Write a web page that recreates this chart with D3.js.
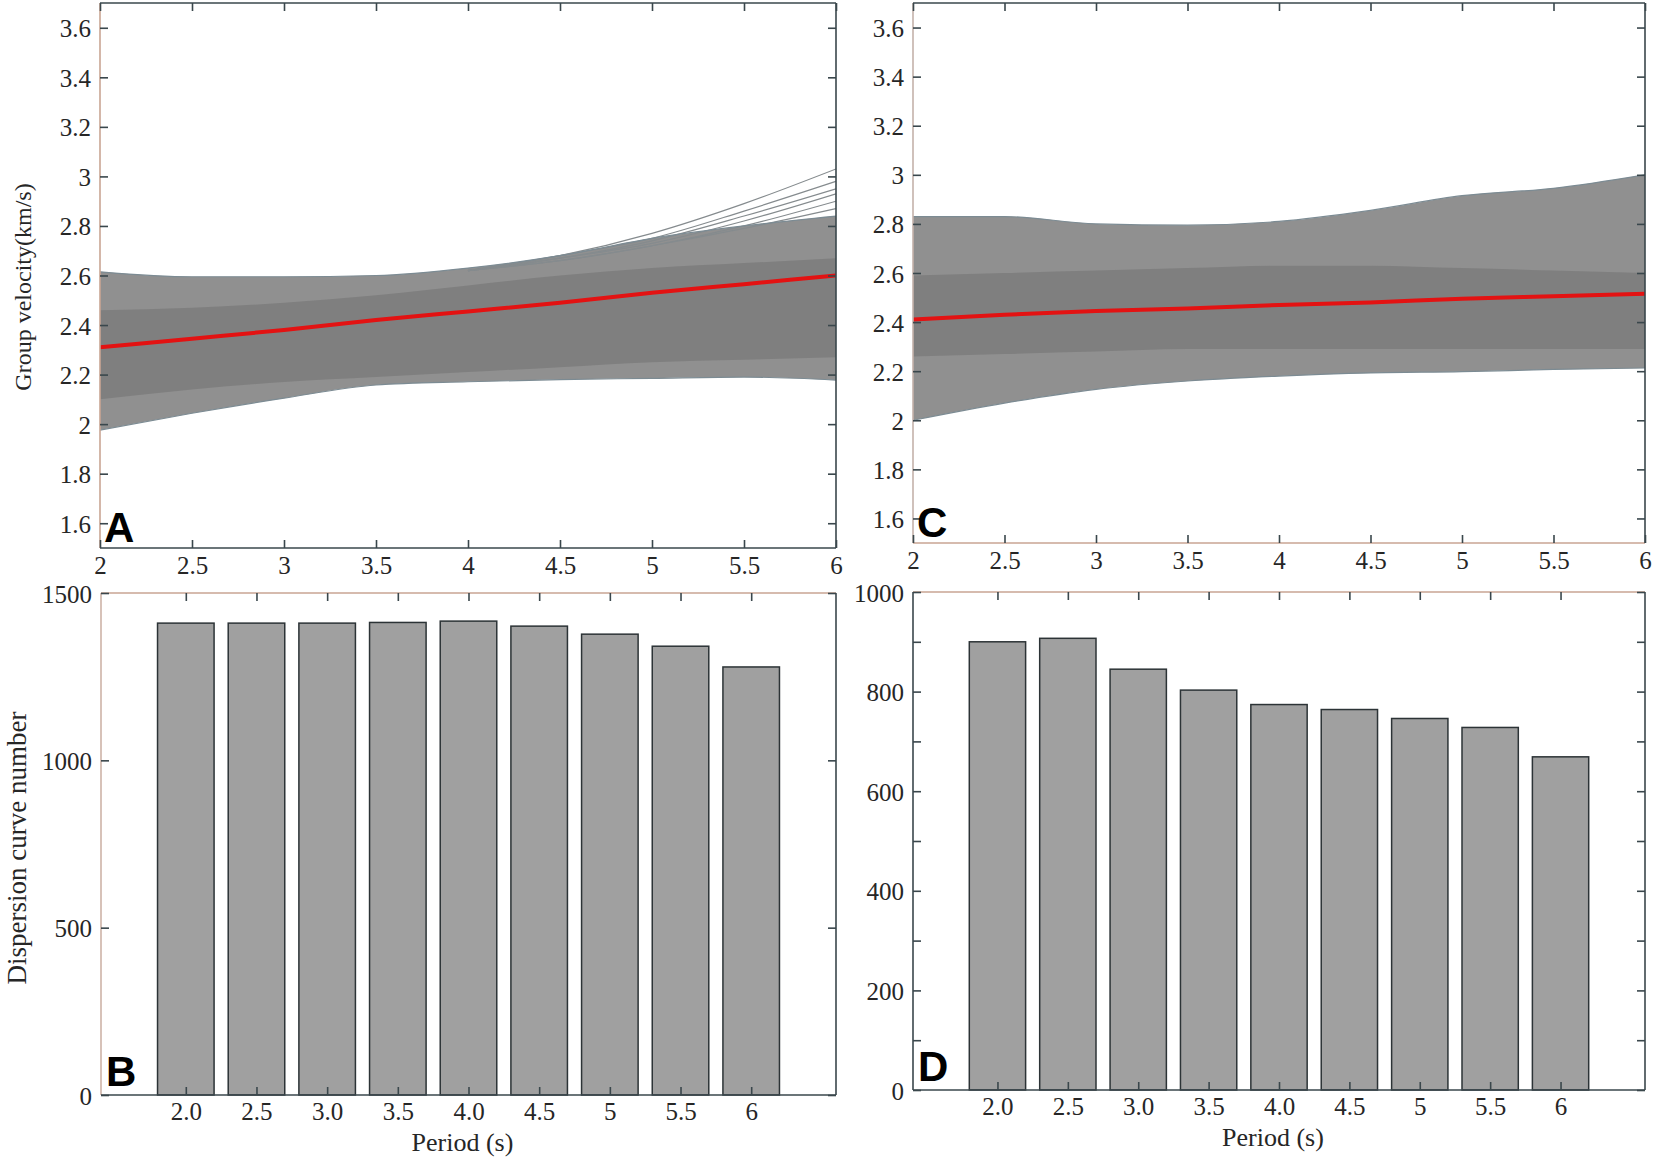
<!DOCTYPE html>
<html>
<head>
<meta charset="utf-8">
<script src="https://cdn.jsdelivr.net/npm/d3@7/dist/d3.min.js"></script>
<style>
  body { margin: 0; background: #fff; }
  svg text { font-family: 'Liberation Serif', 'Times New Roman', serif; fill: #262626; }
  .letter { font-family: 'Liberation Sans', Arial, sans-serif; font-weight: bold; fill: #000; }
</style>
</head>
<body>
<svg id="chart" width="1655" height="1160"></svg>
<script>
// data: periods (s) and group velocity envelopes
const periods = [2, 2.5, 3, 3.5, 4, 4.5, 5, 5.5, 6];

const meanA      = [2.31, 2.345, 2.38, 2.42, 2.455, 2.49, 2.53, 2.565, 2.60];
const upperA     = [2.615, 2.595, 2.595, 2.60, 2.63, 2.68, 2.75, 2.80, 2.84];
const lowerA     = [1.976, 2.044, 2.105, 2.158, 2.171, 2.18, 2.185, 2.19, 2.178];
const coreUpperA = [2.46, 2.47, 2.49, 2.52, 2.56, 2.60, 2.63, 2.65, 2.67];
const coreLowerA = [2.10, 2.14, 2.17, 2.19, 2.21, 2.23, 2.25, 2.26, 2.27];

// the few curves that fan out above the band in A
const fanPeriods = [4, 4.5, 5, 5.5, 6];
const fanA = [
  [2.62, 2.68, 2.77, 2.89, 3.03],
  [2.62, 2.68, 2.75, 2.86, 2.98],
  [2.62, 2.67, 2.74, 2.84, 2.95],
  [2.62, 2.67, 2.73, 2.82, 2.93],
  [2.62, 2.66, 2.72, 2.80, 2.90],
  [2.62, 2.66, 2.72, 2.79, 2.87],
];

const meanC      = [2.41, 2.43, 2.445, 2.455, 2.47, 2.48, 2.495, 2.505, 2.515];
const upperC     = [2.83, 2.83, 2.80, 2.795, 2.81, 2.855, 2.915, 2.945, 3.0];
const lowerC     = [2.0, 2.07, 2.126, 2.16, 2.18, 2.193, 2.198, 2.207, 2.213];
const coreUpperC = [2.59, 2.60, 2.61, 2.62, 2.63, 2.63, 2.62, 2.61, 2.60];
const coreLowerC = [2.26, 2.27, 2.28, 2.29, 2.29, 2.29, 2.29, 2.29, 2.29];

// bar charts: dispersion curve number per period
const barLabels = ['2.0', '2.5', '3.0', '3.5', '4.0', '4.5', '5', '5.5', '6'];
const countsB = [1410, 1410, 1410, 1412, 1416, 1401, 1377, 1341, 1279];
const countsD = [900, 907, 845, 803, 774, 764, 746, 728, 669];

// tick labels
const velTicks = [1.6, 1.8, 2, 2.2, 2.4, 2.6, 2.8, 3, 3.2, 3.4, 3.6];
const periodTicks = [2, 2.5, 3, 3.5, 4, 4.5, 5, 5.5, 6];
const countTicksB = [0, 500, 1000, 1500];
const countTicksD = [0, 200, 400, 600, 800, 1000];
const countMinorD = [0, 100, 200, 300, 400, 500, 600, 700, 800, 900, 1000];

// layout
const config = {
  color: {
    band: '#848484',
    core: '#7f7f7f',
    edge: '#7c8b93',
    mean: '#e31212',
    bar: '#a0a0a0',
    barStroke: '#2c3336',
    dark: '#3a474c',
  },
  tick: 8,
  tickFont: 25,
  velDomain: [1.5, 3.7],
  barXDomain: [-0.2, 10.2],
  barWidth: 0.8,
  panels: {
    A: { l: 100, r: 836, t: 3, b: 548, spines: { left: '#c9a593', top: '#3a474c', right: '#3a474c', bottom: '#3a474c' } },
    C: { l: 913, r: 1645, t: 3, b: 543, spines: { left: '#c4b2aa', top: '#3a474c', right: '#3a474c', bottom: '#c9a593' } },
    B: { l: 101, r: 836, t: 593, b: 1095, spines: { left: '#cdb3a7', top: '#c9a593', right: '#3a474c', bottom: '#3a474c' } },
    D: { l: 913, r: 1645, t: 592, b: 1090, spines: { left: '#3a474c', top: '#c9a593', right: '#3a474c', bottom: '#3a474c' } },
  },
};

const svg = d3.select('#chart');

// function that draws the four spines of a panel
function drawFrame(g, p) {
  const s = p.spines;
  const seg = [
    [p.l, p.t, p.l, p.b, s.left],
    [p.l, p.b, p.r, p.b, s.bottom],
    [p.l, p.t, p.r, p.t, s.top],
    [p.r, p.t, p.r, p.b, s.right],
  ];
  g.selectAll('line.spine').data(seg).enter().append('line')
    .attr('class', 'spine')
    .attr('x1', d => d[0]).attr('y1', d => d[1])
    .attr('x2', d => d[2]).attr('y2', d => d[3])
    .attr('stroke', d => d[4])
    .attr('stroke-width', 1.6);
}

// inward ticks on all four sides, labels on left and bottom
function drawAxes(g, p, x, y, xTicks, yTicks, opt) {
  const yMinor = opt.yMinor || yTicks;

  const left = g.append('g').attr('transform', `translate(${p.l},0)`)
    .call(d3.axisLeft(y).tickValues(yMinor).tickSize(-config.tick).tickSizeOuter(0)
      .tickPadding(9).tickFormat(d => yTicks.includes(d) ? String(d) : ''));
  const right = g.append('g').attr('transform', `translate(${p.r},0)`)
    .call(d3.axisRight(y).tickValues(yMinor).tickSize(-config.tick).tickSizeOuter(0).tickFormat(''));
  const bottom = g.append('g').attr('transform', `translate(0,${p.b})`)
    .call(d3.axisBottom(x).tickValues(xTicks.map(t => t.v)).tickSize(-config.tick).tickSizeOuter(0)
      .tickPadding(opt.xPad).tickFormat((d, i) => xTicks[i].label));
  const top = g.append('g').attr('transform', `translate(0,${p.t})`)
    .call(d3.axisTop(x).tickValues(xTicks.map(t => t.v)).tickSize(-config.tick).tickSizeOuter(0).tickFormat(''));

  [left, right, bottom, top].forEach(a => {
    a.select('.domain').remove();
    a.selectAll('.tick line').attr('stroke', config.color.dark).attr('stroke-width', 1.6);
    a.selectAll('text').attr('fill', '#262626').style('font-size', config.tickFont + 'px');
  });
  left.selectAll('text').attr('dy', '0.36em');
}

// velocity panels (A and C)
function drawVelocityPanel(key, mean, upper, lower, coreUp, coreLo, fan) {
  const p = config.panels[key];
  const g = svg.append('g');
  const x = d3.scaleLinear().domain([2, 6]).range([p.l, p.r]);
  const y = d3.scaleLinear().domain(config.velDomain).range([p.b, p.t]);

  const clipId = 'clip' + key;
  g.append('clipPath').attr('id', clipId).append('rect')
    .attr('x', p.l).attr('y', p.t).attr('width', p.r - p.l).attr('height', p.b - p.t);
  const plot = g.append('g').attr('clip-path', `url(#${clipId})`);

  const rows = periods.map((t, i) => ({ t, up: upper[i], lo: lower[i], cu: coreUp[i], cl: coreLo[i], m: mean[i] }));
  const area = (hi, lo) => d3.area().curve(d3.curveMonotoneX)
    .x(d => x(d.t)).y0(d => y(d[lo])).y1(d => y(d[hi]));
  const line = k => d3.line().curve(d3.curveMonotoneX).x(d => x(d.t)).y(d => y(d[k]));

  // outer envelope of all curves, a touch lighter because lines are sparse there
  plot.append('path').attr('d', area('up', 'lo')(rows))
    .attr('fill', config.color.band).attr('fill-opacity', 0.9);

  // fan of outlying curves
  if (fan) {
    const fanLine = d3.line().curve(d3.curveMonotoneX).x((d, i) => x(fanPeriods[i])).y(d => y(d));
    plot.selectAll('path.fan').data(fan).enter().append('path')
      .attr('class', 'fan')
      .attr('d', fanLine)
      .attr('fill', 'none')
      .attr('stroke', '#858b8e')
      .attr('stroke-width', 1.2);
  }

  // dense core
  plot.append('path').attr('d', area('cu', 'cl')(rows))
    .attr('fill', config.color.core);

  // envelope edges
  ['up', 'lo'].forEach(k => {
    plot.append('path').attr('d', line(k)(rows))
      .attr('fill', 'none').attr('stroke', config.color.edge).attr('stroke-width', 1.2);
  });

  // mean curve
  plot.append('path').attr('d', line('m')(rows))
    .attr('fill', 'none').attr('stroke', config.color.mean).attr('stroke-width', 4);

  drawFrame(g, p);
  drawAxes(g, p, x, y, periodTicks.map(v => ({ v, label: String(v) })), velTicks, { xPad: 8 });

  g.append('text').attr('class', 'letter')
    .attr('x', p.l + 4).attr('y', p.b - 6)
    .style('font-size', '42px')
    .text(key);
  return g;
}

// bar panels (B and D)
function drawBarPanel(key, counts, yMax, yTicks, yMinor) {
  const p = config.panels[key];
  const g = svg.append('g');
  const x = d3.scaleLinear().domain(config.barXDomain).range([p.l, p.r]);
  const y = d3.scaleLinear().domain([0, yMax]).range([p.b, p.t]);
  const bw = x(config.barWidth) - x(0);

  g.selectAll('rect.bar').data(counts).enter().append('rect')
    .attr('class', 'bar')
    .attr('x', (d, i) => x(i + 1) - bw / 2)
    .attr('y', d => y(d))
    .attr('width', bw)
    .attr('height', d => y(0) - y(d))
    .attr('fill', config.color.bar)
    .attr('stroke', config.color.barStroke)
    .attr('stroke-width', 1.5);

  drawFrame(g, p);
  drawAxes(g, p, x, y, barLabels.map((label, i) => ({ v: i + 1, label })), yTicks, { xPad: 7, yMinor });

  g.append('text')
    .attr('x', (p.l + p.r) / 2 - 6).attr('y', p.b + 56)
    .attr('text-anchor', 'middle')
    .style('font-size', '26px')
    .text('Period (s)');

  g.append('text').attr('class', 'letter')
    .attr('x', p.l + 5).attr('y', p.b - 9)
    .style('font-size', '42px')
    .text(key);
  return g;
}

drawVelocityPanel('A', meanA, upperA, lowerA, coreUpperA, coreLowerA, fanA);
drawVelocityPanel('C', meanC, upperC, lowerC, coreUpperC, coreLowerC, null);
drawBarPanel('B', countsB, 1500, countTicksB, countTicksB);
drawBarPanel('D', countsD, 1000, countTicksD, countMinorD);

// y-axis titles
svg.append('text')
  .attr('transform', 'translate(31,287) rotate(-90)')
  .attr('text-anchor', 'middle')
  .style('font-size', '24px')
  .text('Group velocity(km/s)');

svg.append('text')
  .attr('transform', 'translate(26,848) rotate(-90)')
  .attr('text-anchor', 'middle')
  .style('font-size', '27px')
  .text('Dispersion curve number');
</script>
</body>
</html>
